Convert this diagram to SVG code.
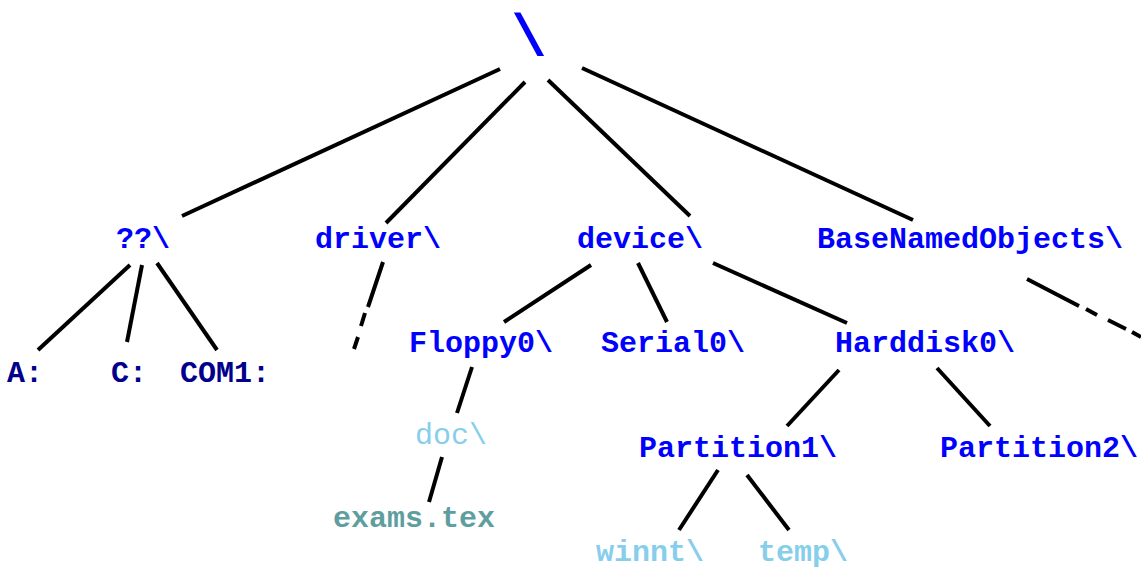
<svg xmlns="http://www.w3.org/2000/svg" width="1141" height="570" viewBox="0 0 1141 570">
<style>
text{font-family:"Liberation Mono","Courier New",monospace;font-weight:bold;font-size:30px;text-anchor:middle}
.dir{fill:#0000FF}
.drv{fill:#00008B}
.sub{fill:#87CEEB}
.file{fill:#5F9EA0}
.edge{stroke:#000;stroke-width:4;fill:none}
</style>
<rect width="1141" height="570" fill="#fff"/>
<g id="connectors">
<line class="edge" x1="500" y1="69" x2="182" y2="216"/>
<line class="edge" x1="525" y1="82" x2="386" y2="223"/>
<line class="edge" x1="548" y1="80" x2="690" y2="216"/>
<line class="edge" x1="582" y1="68" x2="913" y2="220"/>
<line class="edge" x1="130" y1="265" x2="38" y2="350"/>
<line class="edge" x1="142" y1="265" x2="127" y2="342"/>
<line class="edge" x1="157" y1="263" x2="217" y2="350"/>
<line class="edge" x1="383" y1="262" x2="368" y2="307"/>
<line class="edge" x1="365" y1="313" x2="361" y2="326"/>
<line class="edge" x1="358" y1="337" x2="354" y2="349"/>
<line class="edge" x1="1027" y1="279" x2="1079" y2="306"/>
<line class="edge" x1="1086" y1="309" x2="1097" y2="315"/>
<line class="edge" x1="1108" y1="320" x2="1126" y2="329"/>
<line class="edge" x1="1132" y1="332" x2="1141" y2="337"/>
<line class="edge" x1="591" y1="265" x2="504" y2="322"/>
<line class="edge" x1="638" y1="263" x2="667" y2="322"/>
<line class="edge" x1="713" y1="263" x2="847" y2="323"/>
<line class="edge" x1="472" y1="367" x2="457" y2="413"/>
<line class="edge" x1="442" y1="457" x2="429" y2="502"/>
<line class="edge" x1="839" y1="370" x2="787" y2="426"/>
<line class="edge" x1="937" y1="368" x2="990" y2="426"/>
<line class="edge" x1="718" y1="470" x2="679" y2="530"/>
<line class="edge" x1="747" y1="475" x2="789" y2="530"/>
</g>
<g id="root"><text class="dir" x="529" y="55" style="font-size:59px">\</text></g>
<g id="qq"><text class="dir" x="143" y="248">??\</text></g>
<g id="driver"><text class="dir" x="378" y="248">driver\</text></g>
<g id="device"><text class="dir" x="640" y="248">device\</text></g>
<g id="bno"><text class="dir" x="970" y="248">BaseNamedObjects\</text></g>
<g id="a"><text class="drv" x="25" y="382">A:</text></g>
<g id="c"><text class="drv" x="129" y="382">C:</text></g>
<g id="com1"><text class="drv" x="225" y="382">COM1:</text></g>
<g id="floppy0"><text class="dir" x="481" y="352">Floppy0\</text></g>
<g id="serial0"><text class="dir" x="673" y="352">Serial0\</text></g>
<g id="harddisk0"><text class="dir" x="925" y="352">Harddisk0\</text></g>
<g id="doc"><text class="sub" x="451" y="444" style="font-weight:normal">doc\</text></g>
<g id="exams"><text class="file" x="414" y="527">exams.tex</text></g>
<g id="partition1"><text class="dir" x="738" y="457">Partition1\</text></g>
<g id="partition2"><text class="dir" x="1039" y="457">Partition2\</text></g>
<g id="winnt"><text class="sub" x="650" y="561">winnt\</text></g>
<g id="temp"><text class="sub" x="803" y="561">temp\</text></g>
</svg>
